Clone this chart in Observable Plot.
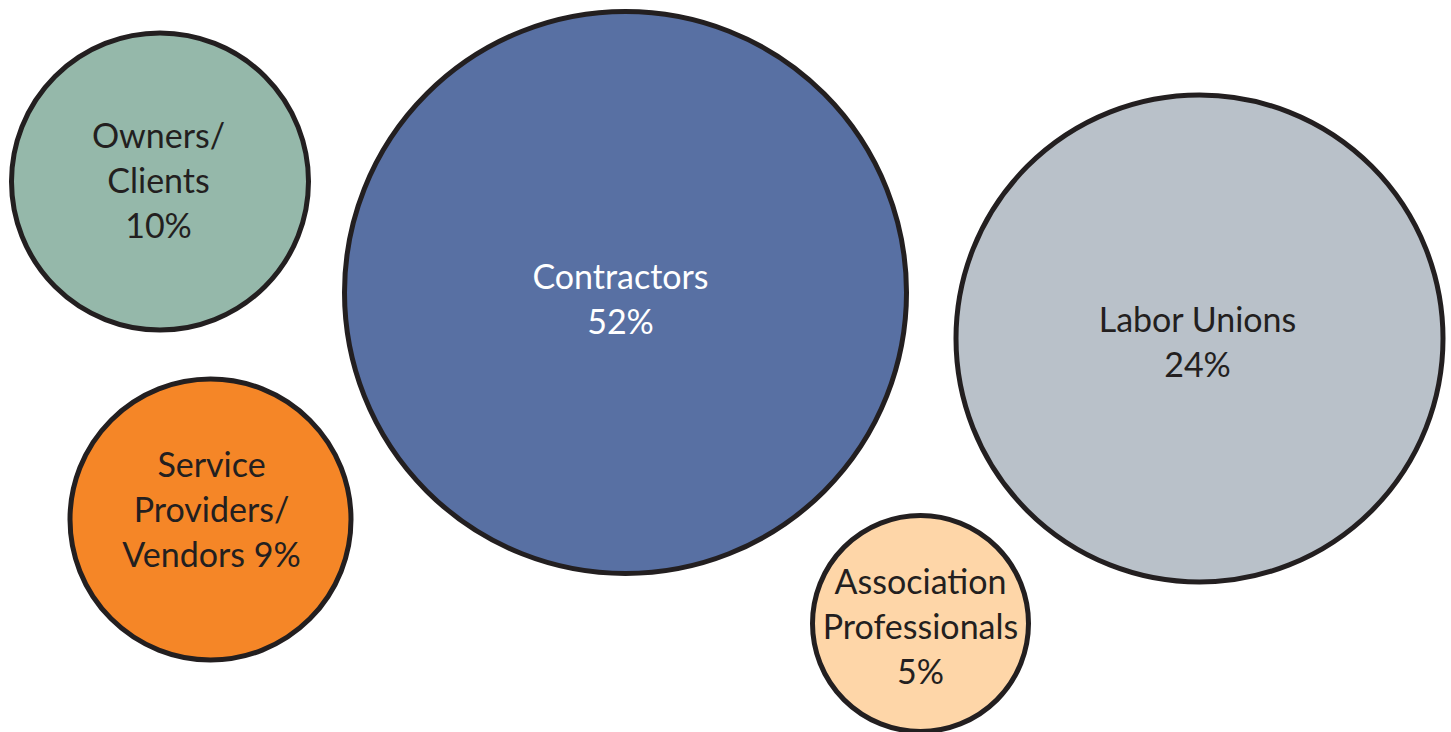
<!DOCTYPE html>
<html>
<head>
<meta charset="utf-8">
<script src="https://cdn.jsdelivr.net/npm/d3@7"></script>
<script src="https://cdn.jsdelivr.net/npm/@observablehq/plot@0.6"></script>
<style>
  html, body { margin: 0; padding: 0; background: #ffffff; }
  #chart svg { display: block; }
</style>
</head>
<body>
<div id="chart"></div>
<script>
// ---- Data ----
const categories = ["Owners/Clients", "Contractors", "Labor Unions", "Service Providers/Vendors", "Association Professionals"];
const shares = [10, 52, 24, 9, 5];
const labels = [
  "Owners/\nClients\n10%",
  "Contractors\n52%",
  "Labor Unions\n24%",
  "Service\nProviders/\nVendors 9%",
  "Association\nProfessionals\n5%"
];
// bubble layout coordinates (chart units)
const bubbleX = [159.5, 625, 1199, 210, 920];
const bubbleY = [181, 292, 338, 519, 623];
// label anchor coordinates (chart units)
const labelX = [158, 620, 1197, 211, 920];
const labelY = [178, 296.5, 340, 507.5, 624.5];

const rows = categories.map((name, i) => ({
  name, share: shares[i], label: labels[i],
  x: bubbleX[i], y: bubbleY[i], lx: labelX[i], ly: labelY[i]
}));

const W = 1451, H = 732;
const ink = "#231f20";

const chart = Plot.plot({
  width: W,
  height: H,
  margin: 0,
  style: { fontFamily: "Lato, 'Open Sans', sans-serif", background: "#ffffff", overflow: "visible" },
  x: { domain: [0, W], axis: null },
  y: { domain: [0, H], reverse: true, axis: null },
  r: { type: "linear", domain: [5, 9, 10, 24, 52], range: [108, 140.5, 148.5, 243.5, 281] },
  color: {
    domain: categories,
    range: ["#95b8aa", "#5870a3", "#b9c1c9", "#f58627", "#fed6a8"]
  },
  marks: [
    Plot.dot(rows, {
      x: "x", y: "y", r: "share", fill: "name",
      stroke: ink, strokeWidth: 5, fillOpacity: 1, sort: null
    }),
    Plot.text(rows, {
      x: "lx", y: "ly", text: "label",
      fontSize: 34, lineHeight: 1.32,
      fontFamily: "Lato, 'Open Sans', sans-serif",
      fill: d => d.name === "Contractors" ? "#ffffff" : ink,
      textAnchor: "middle", lineAnchor: "middle"
    })
  ]
});

document.getElementById("chart").appendChild(chart);
</script>
</body>
</html>
